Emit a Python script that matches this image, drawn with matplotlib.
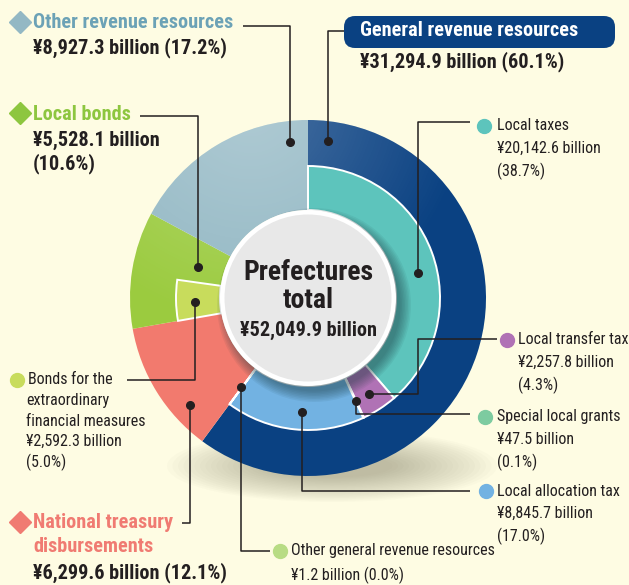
import numpy as np
import matplotlib
matplotlib.use("Agg")
from matplotlib import pyplot as plt
from matplotlib import font_manager as fm
from matplotlib.patches import Circle, Ellipse, Wedge, FancyBboxPatch

# donnees (milliards de yens)
outer_labels = ["General revenue resources", "National treasury disbursements",
                "Local bonds", "Other revenue resources"]
outer_values = [31294.9, 6299.6, 5528.1, 8927.3]
outer_pcts = [60.1, 12.1, 10.6, 17.2]

inner_labels = ["Local taxes", "Local transfer tax", "Special local grants",
                "Local allocation tax", "Other general revenue resources",
                "(treasury)", "Bonds for the extraordinary financial measures",
                "(other bonds)", "(other)"]
inner_values = [20142.6, 2257.8, 47.5, 8845.7, 1.2,
                6299.6, 2592.3, 5528.1 - 2592.3, 8927.3]
inner_pcts = [38.7, 4.3, 0.1, 17.0, 0.0, None, 5.0, None, None]
total = 52049.9

W, H = 629, 585
BG = "#fefce3"
NAVY = "#0a4182"
outer_colors = [NAVY, "#f27a6e", "#9bcb3f", "#93b8c4"]
inner_colors = ["#5dc4bc", "#b072b5", "#7dcba0", "#72b2e2", "#b8dc84",
                None, "#c8dc5c", None, None]

# police etroite : la premiere installee avec un gras
cands = ['Roboto Condensed', 'Archivo Narrow', 'PT Sans Narrow',
         'Fira Sans Condensed', 'IBM Plex Sans Condensed',
         'Encode Sans Condensed', 'Asap Condensed', 'Sofia Sans Condensed',
         'Open Sans Condensed', 'Barlow Semi Condensed', 'Ubuntu Condensed',
         'Liberation Sans Narrow']
weights = {}
for f in fm.fontManager.ttflist:
    weights.setdefault(f.name, set()).add(f.weight)
fam = 'DejaVu Sans'
for c in cands:
    ws = weights.get(c, set())
    if any(w in ws for w in (400, 'normal', 'regular')) and \
            any(w in ws for w in (700, 'bold')):
        fam = c
        break
plt.rcParams['font.family'] = [fam, 'DejaVu Sans']

fig = plt.figure(figsize=(W / 100, H / 100), dpi=100, facecolor=BG)
ax = fig.add_axes([0, 0, 1, 1])
ax.set_facecolor(BG)

def P(x, y):
    # coordonnees pixel (y vers le bas) -> donnees
    return x, H - y

cx, cy = P(308, 298)
R_out, R_in, R_hole = 178, 132, 88

# ombre sous le graphique
for k in range(20):
    ax.add_patch(Ellipse(P(332, 466), 330 - k * 11, 72 - k * 2.6,
                         color="#6e6a50", alpha=0.022, lw=0, zorder=0))

# anneau exterieur
w_out, _ = ax.pie(outer_values, colors=outer_colors, startangle=90,
                  counterclock=False, center=(cx, cy), radius=R_out,
                  wedgeprops=dict(width=R_out - R_hole, linewidth=0))
for w in w_out:
    w.set_zorder(1)

# reflet en haut a gauche
ring = Wedge((cx, cy), R_out, 0, 360, width=R_out - R_hole,
             transform=ax.transData)
gx, gy = np.meshgrid(np.linspace(cx - R_out, cx + R_out, 300),
                     np.linspace(cy + R_out, cy - R_out, 300))
hx, hy = P(250, 105)
d = np.hypot(gx - hx, gy - hy) / 220
gloss = np.zeros(gx.shape + (4,))
gloss[..., :3] = 1
gloss[..., 3] = 0.26 * np.clip(1 - d, 0, 1)
im = ax.imshow(gloss, extent=(cx - R_out, cx + R_out, cy - R_out, cy + R_out),
               zorder=2, interpolation="bilinear")
im.set_clip_path(ring)

# anneau interieur
w_in, _ = ax.pie(inner_values, colors=[c or "none" for c in inner_colors],
                 startangle=90, counterclock=False, center=(cx, cy),
                 radius=R_in,
                 wedgeprops=dict(width=R_in - R_hole, linewidth=1.4,
                                 edgecolor="white"))
for w, c in zip(w_in, inner_colors):
    w.set_zorder(3)
    if c is None:
        w.set_visible(False)

# ombre du disque central
for k in range(8):
    ax.add_patch(Circle((cx + 6, cy - 7), R_hole + 9 - k * 1.5,
                        color="#1c3a40", alpha=0.07, lw=0, zorder=4))
ax.add_patch(Circle((cx, cy), R_hole, color="white", lw=0, zorder=5))
ax.add_patch(Circle((cx, cy), R_hole - 4.5, color="#e8e8e8", lw=0, zorder=5))

DARK = "#231f20"
ax.text(*P(308, 272), "Prefectures", ha="center", va="center",
        fontsize=20, fontweight="bold", color=DARK, zorder=6)
ax.text(*P(308, 300), "total", ha="center", va="center",
        fontsize=20, fontweight="bold", color=DARK, zorder=6)
ax.text(*P(308, 330), f"¥{total:,.1f} billion", ha="center", va="center",
        fontsize=14.6, fontweight="bold", color=DARK, zorder=6)

# traits de rappel
leaders = [
    [(243, 26), (290, 26), (290, 142)],
    [(344, 31), (328, 31), (328, 141)],
    [(140, 116), (198, 116), (198, 267)],
    [(127, 380), (195, 380), (195, 302)],
    [(182, 523), (190, 523), (190, 405)],
    [(270, 551), (241, 551), (241, 387)],
    [(470, 491), (302, 491), (302, 412)],
    [(470, 414), (356, 414), (356, 401)],
    [(497, 339), (418, 339), (418, 394), (369, 394)],
    [(470, 122), (418, 122), (418, 273)],
]
for pts in leaders:
    xs, ys = zip(*[P(*p) for p in pts])
    ax.plot(xs, ys, color=DARK, lw=1.1, zorder=7, solid_capstyle="butt")
    ax.plot(xs[-1], ys[-1], "o", color=DARK, ms=5.5, zorder=8)

bold = dict(fontweight="bold", fontsize=14.6, va="center", ha="left")
small = dict(fontsize=11.5, va="center", ha="left", color=DARK)

def money(v):
    return f"¥{v:,.1f} billion"

# grandes categories
for (x, y), col in [((20, 22), outer_colors[3]), ((20, 113), "#8dc63f"),
                    ((20, 522), "#f07b72")]:
    ax.plot(*P(x, y), "D", color=col, ms=11.5, zorder=8)

ax.text(*P(33, 22), outer_labels[3], color="#6ca2b6", **bold)
ax.text(*P(33, 48), f"{money(outer_values[3])} ({outer_pcts[3]}%)",
        color=DARK, **bold)
ax.text(*P(33, 114), outer_labels[2], color="#8dc63f", **bold)
ax.text(*P(33, 140), money(outer_values[2]), color=DARK, **bold)
ax.text(*P(33, 164), f"({outer_pcts[2]}%)", color=DARK, **bold)
ax.text(*P(33, 522), "National treasury", color="#f07b72", **bold)
ax.text(*P(33, 546), "disbursements", color="#f07b72", **bold)
ax.text(*P(33, 573), f"{money(outer_values[1])} ({outer_pcts[1]}%)",
        color=DARK, **bold)

ax.add_patch(FancyBboxPatch(P(344, 48), 271, 32,
                            boxstyle="round,pad=0,rounding_size=11",
                            fc=NAVY, ec="none", zorder=6))
ax.text(*P(360, 31), outer_labels[0], color="white", zorder=7, **bold)
ax.text(*P(360, 62), f"{money(outer_values[0])} ({outer_pcts[0]}%)",
        color=DARK, **bold)

# sous-categories
subs = [
    (0, (484, 126), [inner_labels[0], money(inner_values[0]),
                     f"({inner_pcts[0]}%)"], 497),
    (1, (507, 340), [inner_labels[1], money(inner_values[1]),
                     f"({inner_pcts[1]}%)"], 518),
    (2, (485, 417), [inner_labels[2], money(inner_values[2]),
                     f"({inner_pcts[2]}%)"], 497),
    (3, (486, 491), [inner_labels[3], money(inner_values[3]),
                     f"({inner_pcts[3]}%)"], 497),
    (6, (17, 380), ["Bonds for the", "extraordinary", "financial measures",
                    money(inner_values[6]), f"({inner_pcts[6]}%)"], 26),
]
for i, (x, y), lines, tx in subs:
    ax.plot(*P(x, y), "o", color=inner_colors[i], ms=10, zorder=8)
    step = 20.5 if i == 6 else 22.5
    for j, s in enumerate(lines):
        xx = tx + (2 if (i == 6 and j == 0) else 0)
        ax.text(*P(xx, y + j * step), s, **small)

ax.plot(*P(280, 551), "o", color=inner_colors[4], ms=10, zorder=8)
ax.text(*P(291, 551), inner_labels[4], **small)
ax.text(*P(291, 575), f"¥{inner_values[4]:,.1f} billion ({inner_pcts[4]}%)",
        **small)

ax.set_xlim(0, W)
ax.set_ylim(0, H)
ax.set_aspect("equal")
ax.axis("off")

fig.savefig("out.png", dpi=100, facecolor=BG)
